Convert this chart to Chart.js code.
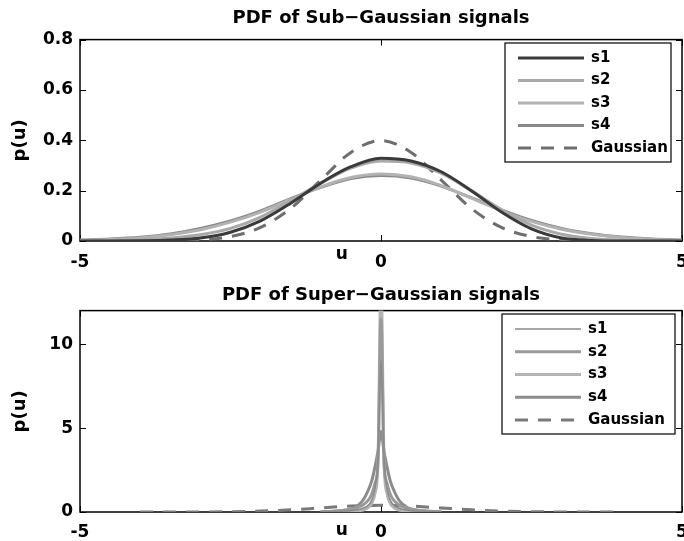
<!DOCTYPE html>
<html>
<head>
<meta charset="utf-8">
<script src="https://cdn.jsdelivr.net/npm/chart.js@4.4.0/dist/chart.umd.min.js"></script>
<style>
  body { margin: 0; background: #fff; }
  canvas { display: block; }
</style>
</head>
<body>
<canvas id="sub" width="684" height="275"></canvas>
<canvas id="super" width="684" height="266"></canvas>
<script>
// u values (shared x axis, -5..5)
const xTicks = [-5, 0, 5];
const ySubTicks = [0, 0.2, 0.4, 0.6, 0.8];
const ySuperTicks = [0, 5, 10];

// sub-gaussian curves
const uSub = [-5, -4.5, -4, -3.5, -3, -2.5, -2, -1.5, -1, -0.5, 0, 0.5, 1, 1.5, 2, 2.5, 3, 3.5, 4, 4.5, 5];
const s1Sub = [0, 0, 0.001, 0.004, 0.012, 0.035, 0.08, 0.15, 0.23, 0.295, 0.329, 0.318, 0.275, 0.2, 0.115, 0.048, 0.012, 0.002, 0, 0, 0];
const s2Sub = [0, 0.002, 0.005, 0.012, 0.025, 0.05, 0.095, 0.16, 0.23, 0.29, 0.318, 0.31, 0.27, 0.2, 0.125, 0.063, 0.027, 0.01, 0.003, 0.001, 0];
const s3Sub = [0.003, 0.006, 0.012, 0.025, 0.045, 0.075, 0.115, 0.165, 0.215, 0.252, 0.266, 0.255, 0.22, 0.17, 0.12, 0.078, 0.047, 0.027, 0.014, 0.007, 0.003];
const s4Sub = [0.004, 0.008, 0.015, 0.028, 0.05, 0.08, 0.12, 0.168, 0.213, 0.248, 0.26, 0.25, 0.218, 0.172, 0.124, 0.082, 0.05, 0.029, 0.016, 0.008, 0.004];

// super-gaussian curves, sharp peaks at 0
const uSuper = [-1, -0.75, -0.5, -0.4, -0.3, -0.2, -0.15, -0.1, -0.05, 0, 0.05, 0.1, 0.15, 0.2, 0.3, 0.4, 0.5, 0.75, 1];
const s1Super = [0.01, 0.03, 0.08, 0.13, 0.22, 0.45, 0.75, 1.4, 3.2, 9.0, 3.2, 1.4, 0.75, 0.45, 0.22, 0.13, 0.08, 0.03, 0.01];
const s2Super = [0.02, 0.06, 0.16, 0.26, 0.42, 0.75, 1.1, 1.7, 3.0, 11.5, 3.0, 1.7, 1.1, 0.75, 0.42, 0.26, 0.16, 0.06, 0.02];
const s3Super = [0, 0.01, 0.03, 0.06, 0.12, 0.3, 0.55, 1.1, 3.0, 14.0, 3.0, 1.1, 0.55, 0.3, 0.12, 0.06, 0.03, 0.01, 0];
const s4Super = [0.01, 0.04, 0.18, 0.35, 0.7, 1.4, 1.9, 2.7, 3.6, 4.8, 3.6, 2.7, 1.9, 1.4, 0.7, 0.35, 0.18, 0.04, 0.01];

// reference gaussian (dashed), same in both plots
const uGauss = [-4, -3.5, -3, -2.5, -2, -1.5, -1, -0.5, 0, 0.5, 1, 1.5, 2, 2.5, 3, 3.5, 4];
const gauss = [0.0001, 0.0009, 0.0044, 0.0175, 0.054, 0.1295, 0.242, 0.352, 0.399, 0.352, 0.242, 0.1295, 0.054, 0.0175, 0.0044, 0.0009, 0.0001];

const FONT = '"DejaVu Sans", "Liberation Sans", sans-serif';

function pts(us, ys) {
    return us.map((u, i) => ({x: u, y: ys[i]}));
}

function line(ctx, x1, y1, x2, y2) {
    ctx.beginPath();
    ctx.moveTo(x1, y1);
    ctx.lineTo(x2, y2);
    ctx.stroke();
}

// matlab style box, inward ticks, legend and the odd "u" label
const matlabAxes = {
    id: 'matlabAxes',
    beforeDatasetsDraw(chart) {
        const {ctx, chartArea: a, scales} = chart;
        ctx.save();
        ctx.strokeStyle = '#000';
        ctx.lineWidth = 1.5;
        ctx.strokeRect(a.left, a.top, a.width, a.height);
        ctx.lineWidth = 1;
        const len = 6;
        scales.x.ticks.forEach(t => {
            const px = Math.round(scales.x.getPixelForValue(t.value)) + 0.5;
            line(ctx, px, a.bottom, px, a.bottom - len);
            line(ctx, px, a.top, px, a.top + len);
        });
        scales.y.ticks.forEach(t => {
            const py = Math.round(scales.y.getPixelForValue(t.value)) + 0.5;
            line(ctx, a.left, py, a.left + len, py);
            line(ctx, a.right, py, a.right - len, py);
        });
        ctx.restore();
    },
    afterDraw(chart, args, opts) {
        const {ctx, chartArea: a, scales} = chart;
        ctx.save();
        // x label "u"
        ctx.fillStyle = '#000';
        ctx.font = 'bold 17px ' + FONT;
        ctx.textAlign = 'center';
        ctx.textBaseline = 'middle';
        ctx.fillText('u', scales.x.getPixelForValue(opts.uAt), a.bottom + opts.uDy);

        // legend
        const lg = opts.legend;
        ctx.fillStyle = '#fff';
        ctx.fillRect(lg.left, lg.top, lg.width, lg.height);
        ctx.strokeStyle = '#000';
        ctx.lineWidth = 1.2;
        ctx.strokeRect(lg.left, lg.top, lg.width, lg.height);
        ctx.font = 'bold 15px ' + FONT;
        ctx.textAlign = 'left';
        chart.data.datasets.forEach((ds, i) => {
            const y = lg.top + lg.first + i * lg.rowH;
            ctx.strokeStyle = ds.borderColor;
            ctx.lineWidth = ds.borderWidth;
            ctx.setLineDash(ds.borderDash || []);
            line(ctx, lg.left + 13, y, lg.left + 79, y);
            ctx.setLineDash([]);
            ctx.fillStyle = '#000';
            ctx.fillText(ds.label, lg.left + 86, y);
        });
        ctx.restore();
    }
};

function makeChart(id, cfg) {
    return new Chart(document.getElementById(id), {
        type: 'line',
        data: {datasets: cfg.datasets},
        options: {
            responsive: false,
            animation: false,
            layout: {padding: {left: 0, right: 2, top: 0, bottom: 0}},
            elements: {
                point: {radius: 0},
                line: {cubicInterpolationMode: 'monotone', fill: false}
            },
            plugins: {
                legend: {display: false},
                tooltip: {enabled: false},
                title: {
                    display: true,
                    fullSize: false,
                    text: cfg.title,
                    color: '#000',
                    font: {family: FONT, size: 18, weight: 'bold'},
                    padding: cfg.titlePad
                },
                matlabAxes: cfg.extra
            },
            scales: {
                x: {
                    type: 'linear',
                    min: -5,
                    max: 5,
                    grid: {display: false, drawTicks: false},
                    border: {display: false},
                    ticks: {color: '#000', font: {family: FONT, size: 17, weight: 'bold'}, padding: cfg.xPad, maxRotation: 0},
                    afterBuildTicks: s => { s.ticks = xTicks.map(v => ({value: v})); },
                    afterFit: s => { s.height = cfg.xHeight; s.paddingLeft = 0; s.paddingRight = 0; }
                },
                y: {
                    min: 0,
                    max: cfg.yMax,
                    grid: {display: false, drawTicks: false},
                    border: {display: false},
                    ticks: {
                        color: '#000',
                        font: {family: FONT, size: 17, weight: 'bold'},
                        padding: 7,
                        callback: v => String(v)
                    },
                    afterBuildTicks: s => { s.ticks = cfg.yTicks.map(v => ({value: v})); },
                    afterFit: s => { s.width = 80; },
                    title: {
                        display: true,
                        text: 'p(u)',
                        color: '#000',
                        font: {family: FONT, size: 18, weight: 'bold'},
                        padding: {top: 10, bottom: 0}
                    }
                }
            }
        },
        plugins: [matlabAxes]
    });
}

makeChart('sub', {
    title: 'PDF of Sub\u2212Gaussian signals',
    titlePad: {top: 8, bottom: 10},
    yMax: 0.8,
    yTicks: ySubTicks,
    xPad: 11,
    xHeight: 34,
    extra: {uAt: -0.65, uDy: 14, legend: {left: 505, top: 43, width: 166, height: 119, first: 15, rowH: 22.5}},
    datasets: [
        {label: 's1', data: pts(uSub, s1Sub), borderColor: '#3a3a3a', borderWidth: 3},
        {label: 's2', data: pts(uSub, s2Sub), borderColor: '#a9a9a9', borderWidth: 3},
        {label: 's3', data: pts(uSub, s3Sub), borderColor: '#b2b2b2', borderWidth: 3},
        {label: 's4', data: pts(uSub, s4Sub), borderColor: '#898989', borderWidth: 3},
        {label: 'Gaussian', data: pts(uGauss, gauss), borderColor: '#6e6e6e', borderWidth: 3, borderDash: [13, 10]}
    ]
});

makeChart('super', {
    title: 'PDF of Super\u2212Gaussian signals',
    titlePad: {top: 10, bottom: 4},
    yMax: 12,
    yTicks: ySuperTicks,
    xPad: 10,
    xHeight: 29,
    extra: {uAt: -0.65, uDy: 19, legend: {left: 502, top: 39, width: 173, height: 120, first: 15, rowH: 22.75}},
    datasets: [
        {label: 's1', data: pts(uSuper, s1Super), borderColor: '#8a8a8a', borderWidth: 1.5},
        {label: 's2', data: pts(uSuper, s2Super), borderColor: '#9a9a9a', borderWidth: 3},
        {label: 's3', data: pts(uSuper, s3Super), borderColor: '#b4b4b4', borderWidth: 3},
        {label: 's4', data: pts(uSuper, s4Super), borderColor: '#8c8c8c', borderWidth: 3},
        {label: 'Gaussian', data: pts(uGauss, gauss), borderColor: '#7a7a7a', borderWidth: 3, borderDash: [13, 10]}
    ]
});
</script>
</body>
</html>
